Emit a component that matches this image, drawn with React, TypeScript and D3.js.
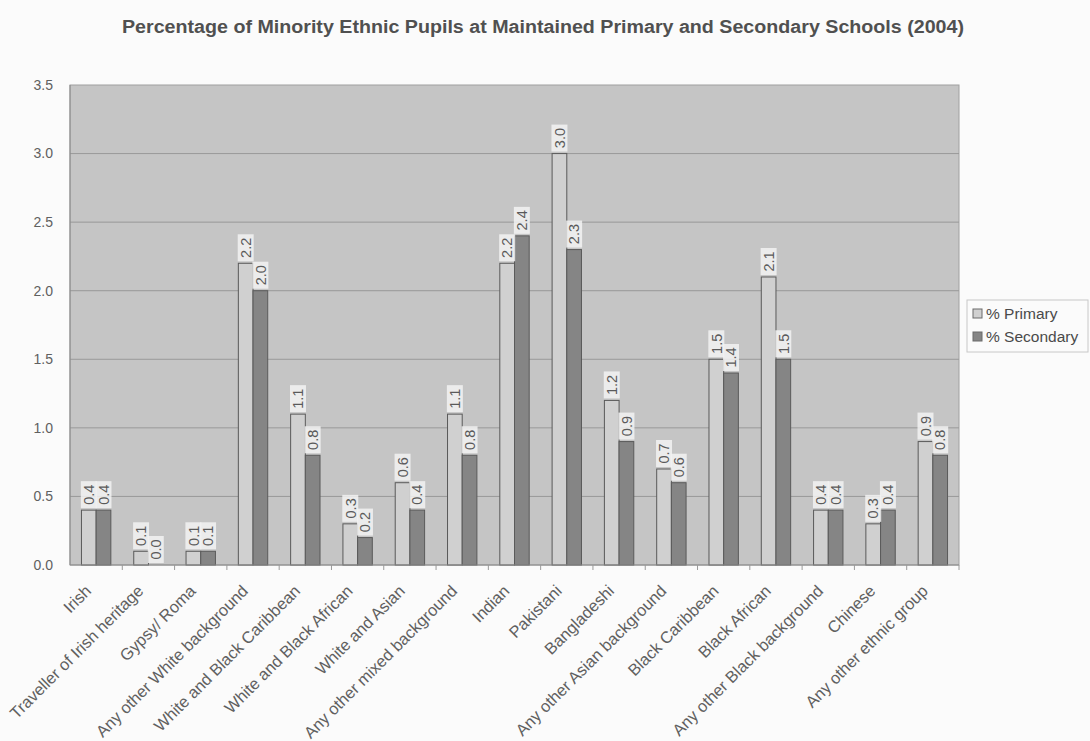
import React from "react";
import * as d3 from "d3";

const categories: string[] = [
  "Irish",
  "Traveller of Irish heritage",
  "Gypsy/ Roma",
  "Any other White background",
  "White and Black Caribbean",
  "White and Black African",
  "White and Asian",
  "Any other mixed background",
  "Indian",
  "Pakistani",
  "Bangladeshi",
  "Any other Asian background",
  "Black Caribbean",
  "Black African",
  "Any other Black background",
  "Chinese",
  "Any other ethnic group",
];

const primary: number[] = [0.4, 0.1, 0.1, 2.2, 1.1, 0.3, 0.6, 1.1, 2.2, 3.0, 1.2, 0.7, 1.5, 2.1, 0.4, 0.3, 0.9];
const secondary: number[] = [0.4, 0.0, 0.1, 2.0, 0.8, 0.2, 0.4, 0.8, 2.4, 2.3, 0.9, 0.6, 1.4, 1.5, 0.4, 0.4, 0.8];

const seriesNames: string[] = ["% Primary", "% Secondary"];
const yTicks: number[] = [0, 0.5, 1.0, 1.5, 2.0, 2.5, 3.0, 3.5];

const title = "Percentage of Minority Ethnic Pupils at Maintained Primary and Secondary Schools (2004)";

const W = 1090;
const H = 741;
const plot = { left: 70, right: 959, top: 85, bottom: 565 };
const fills = ["#d0d0d0", "#858585"];
const font = "Arial, 'Liberation Sans', sans-serif";

export default function App() {
  const x = d3.scaleBand<string>().domain(categories).range([plot.left, plot.right]).padding(0);
  const inner = d3
    .scaleBand<number>()
    .domain([0, 1])
    .range([0, x.bandwidth()])
    .paddingInner(0)
    .paddingOuter(0.78);
  const y = d3.scaleLinear().domain([0, 3.5]).range([plot.bottom, plot.top]);

  const series = [primary, secondary];
  const fmt = d3.format(".1f");

  return (
    <svg
      width={W}
      height={H}
      viewBox={`0 0 ${W} ${H}`}
      style={{ position: "absolute", left: 0, top: 0, background: "#fbfbfb" }}
      fontFamily={font}
    >
      <text
        x={122}
        y={33}
        fontSize={18}
        fontWeight="bold"
        fill="#505050"
        textLength={842}
        lengthAdjust="spacingAndGlyphs"
      >
        {title}
      </text>

      {/* plot area */}
      <rect
        x={plot.left}
        y={plot.top}
        width={plot.right - plot.left}
        height={plot.bottom - plot.top}
        fill="#c5c5c5"
        stroke="#a0a0a0"
        strokeWidth={1}
      />

      {/* horizontal gridlines */}
      {yTicks.slice(1, -1).map((t) => (
        <line
          key={t}
          x1={plot.left}
          x2={plot.right}
          y1={y(t)}
          y2={y(t)}
          stroke="#999999"
          strokeWidth={1}
        />
      ))}
      <line x1={plot.left} x2={plot.left} y1={plot.top} y2={plot.bottom} stroke="#8a8a8a" />

      {/* y tick labels */}
      {yTicks.map((t) => (
        <text
          key={t}
          x={plot.left - 17}
          y={y(t)}
          dy="0.35em"
          textAnchor="end"
          fontSize={14}
          fill="#606060"
        >
          {fmt(t)}
        </text>
      ))}

      {/* bars */}
      {categories.map((c, i) => (
        <g key={c}>
          {series.map((s, k) => {
            const bx = (x(c) ?? 0) + (inner(k) ?? 0);
            const bw = inner.bandwidth();
            return (
              <rect
                key={k}
                x={bx}
                y={y(s[i])}
                width={bw}
                height={y(0) - y(s[i])}
                fill={fills[k]}
                stroke="#5a5a5a"
                strokeWidth={1}
              />
            );
          })}
        </g>
      ))}

      {/* data labels */}
      {categories.map((c, i) => (
        <g key={c + "-lbl"}>
          {series.map((s, k) => {
            const cx = (x(c) ?? 0) + (inner(k) ?? 0) + inner.bandwidth() / 2;
            const top = y(s[i]) - 2;
            const label = fmt(s[i]);
            const lw = 27;
            return (
              <g key={k} transform={`translate(${cx},${top}) rotate(-90)`}>
                <rect x={0} y={-8} width={lw} height={16} fill="#f2f2f2" fillOpacity={0.85} />
                <text x={lw / 2} y={0} dy="0.36em" textAnchor="middle" fontSize={14.5} fill="#5a5a5a">
                  {label}
                </text>
              </g>
            );
          })}
        </g>
      ))}

      {/* x axis line and tick marks */}
      <line x1={plot.left} x2={plot.right} y1={plot.bottom} y2={plot.bottom} stroke="#8a8a8a" />
      {categories.map((c) => (
        <line
          key={c + "-tick"}
          x1={(x(c) ?? 0) + x.bandwidth()}
          x2={(x(c) ?? 0) + x.bandwidth()}
          y1={plot.bottom}
          y2={plot.bottom + 5}
          stroke="#9a9a9a"
        />
      ))}

      {/* category labels */}
      {categories.map((c) => {
        const cx = (x(c) ?? 0) + x.bandwidth() / 2 - 4;
        return (
          <text
            key={c + "-x"}
            transform={`translate(${cx},${plot.bottom + 27}) rotate(-45)`}
            textAnchor="end"
            fontSize={16.4}
            fill="#606060"
          >
            {c}
          </text>
        );
      })}

      {/* legend */}
      <g transform="translate(967,300)">
        <rect x={0} y={0} width={121} height={52} fill="#fbfbfb" stroke="#c8c8c8" />
        {seriesNames.map((n, k) => (
          <g key={n} transform={`translate(0,${14 + k * 23})`}>
            <rect x={6} y={-5} width={9} height={9} fill={fills[k]} stroke="#6a6a6a" />
            <text x={19} y={0} dy="0.35em" fontSize={15.5} fill="#4a4a4a">
              {n}
            </text>
          </g>
        ))}
      </g>
    </svg>
  );
}
